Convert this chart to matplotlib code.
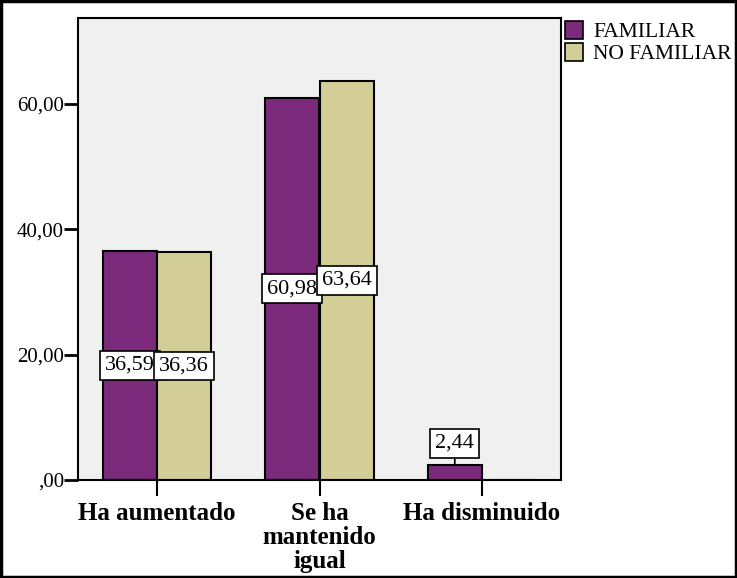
import matplotlib
matplotlib.use("Agg")
import matplotlib.pyplot as plt
from matplotlib.patches import Rectangle
import numpy as np

plt.rcParams['font.family'] = ['Liberation Serif', 'DejaVu Serif']

categories = ["Ha aumentado", "Se ha\nmantenido\nigual", "Ha disminuido"]
familiar = [36.59, 60.98, 2.44]
no_familiar = [36.36, 63.64, 0.0]
series_names = ["FAMILIAR", "NO FAMILIAR"]
yticks = [0, 20, 40, 60]
ytick_labels = [",00", "20,00", "40,00", "60,00"]

purple = "#7B2A7B"
beige = "#D3CE98"

W, H = 737, 578
fig = plt.figure(figsize=(W / 100, H / 100), dpi=100)
ax = fig.add_axes([78 / W, 98 / H, 483 / W, 462 / H])
ax.set_facecolor("#F0F0F0")

x = np.arange(len(categories))
w = 0.335
b1 = ax.bar(x - w / 2, familiar, w, color=purple, edgecolor="black", linewidth=1.5, zorder=2)
b2 = ax.bar(x + w / 2, no_familiar, w, color=beige, edgecolor="black", linewidth=1.5, zorder=2)


def fmt(v):
    return f"{v:.2f}".replace(".", ",")


box = dict(boxstyle="square,pad=0.22", facecolor="white", edgecolor="black", linewidth=1.2)
for bars, vals in ((b1, familiar), (b2, no_familiar)):
    for rect, v in zip(bars, vals):
        if v <= 0:
            continue
        cx = rect.get_x() + rect.get_width() / 2
        if v > 8:
            ax.text(cx, v / 2, fmt(v), ha="center", va="center", fontsize=16,
                    bbox=box, zorder=4)
        else:
            ax.annotate(fmt(v), xy=(cx, v), xytext=(cx, v + 3.4), ha="center", va="center",
                        fontsize=16, bbox=box, zorder=4,
                        arrowprops=dict(arrowstyle="-", color="black", lw=1.2,
                                        shrinkA=0, shrinkB=0))

ax.set_xlim(-0.486, 2.486)
ax.set_ylim(0, 73.7)
ax.set_yticks(yticks)
ax.set_yticklabels(ytick_labels, fontsize=15)
ax.set_xticks(x)
ax.set_xticklabels(categories, fontsize=18, fontweight="bold", linespacing=1.08)
ax.tick_params(axis="y", direction="out", length=10, width=2, pad=0)
ax.tick_params(axis="x", direction="out", length=11.5, width=1.5, pad=4)
for s in ax.spines.values():
    s.set_linewidth(1.5)
    s.set_color("black")

# Legend: colour swatches and series names at the top right of the figure
sw = 18
for i, (name, col) in enumerate(zip(series_names, [purple, beige])):
    top = 21 + i * 22
    fig.add_artist(Rectangle((565 / W, 1 - (top + sw) / H), sw / W, sw / H,
                             transform=fig.transFigure, facecolor=col,
                             edgecolor="black", linewidth=1.2))
    fig.text(593 / W, 1 - (top + sw / 2) / H, name, fontsize=15.5,
             ha="left", va="center_baseline")

fig.add_artist(Rectangle((0.002, 0.002), 0.996, 0.996, transform=fig.transFigure,
                         fill=False, edgecolor="black", linewidth=2.5))

fig.savefig("out.png", dpi=100)
